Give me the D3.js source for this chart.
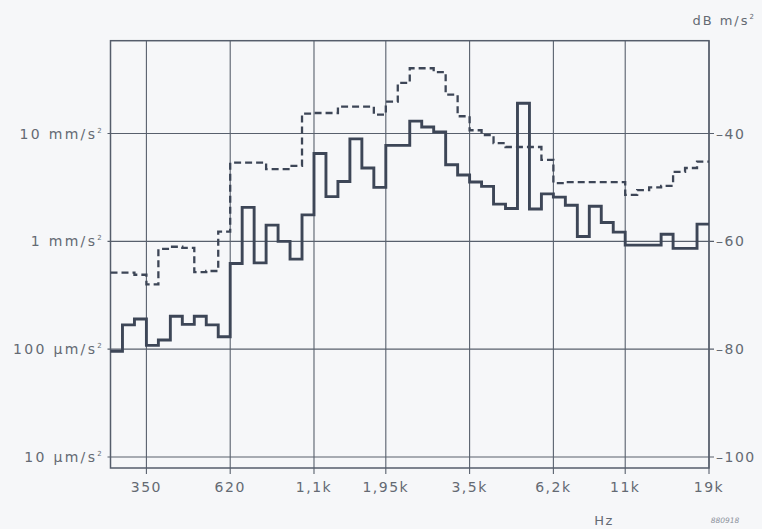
<!DOCTYPE html>
<html lang="en">
<head>
  <meta charset="UTF-8">
  <title>Spectrum</title>
  <style>
    body { margin: 0; background: #f6f7f9; }
    text { font-family: "DejaVu Sans", sans-serif; fill: #646a73; }
  </style>
</head>
<body>
  <svg width="762" height="529" id="chart"></svg>
  <script src="https://cdn.jsdelivr.net/npm/d3@7/dist/d3.min.js"></script>
  <script>
    // band levels in dB re 1 m/s^2, one value per analyser band (50 bands)
    const solidDb = [
      -80.4, -75.5, -74.4, -79.3, -78.3, -73.9, -75.4, -73.9, -75.5, -77.7,
      -64.1, -53.7, -64.0, -57.0, -60.0, -63.3, -55.1, -43.7, -51.7, -48.9,
      -41.0, -46.4, -50.0, -42.2, -42.2, -37.7, -38.8, -39.7, -45.8, -47.7,
      -49.0, -49.8, -53.1, -53.9, -34.4, -54.0, -51.2, -51.8, -53.3, -59.1,
      -53.5, -56.5, -58.3, -60.7, -60.7, -60.7, -58.7, -61.3, -61.3, -56.8
    ];
    const dashedDb = [
      -65.8, -65.8, -66.2, -68.0, -61.4, -61.0, -61.2, -65.7, -65.5, -58.2,
      -45.4, -45.4, -45.4, -46.6, -46.6, -46.0, -36.3, -36.2, -36.2, -35.0,
      -35.0, -35.0, -36.5, -34.1, -30.6, -27.9, -27.9, -28.6, -32.8, -36.8,
      -39.4, -40.3, -41.8, -42.5, -42.5, -42.5, -44.9, -49.2, -49.0, -49.0,
      -49.0, -49.0, -49.0, -51.4, -50.5, -50.0, -49.7, -47.1, -46.4, -45.2
    ];
    const freqTicks = [3, 10, 17, 23, 30, 37, 43, 50];
    const freqLabels = ['350', '620', '1,1k', '1,95k', '3,5k', '6,2k', '11k', '19k'];
    const dbTicks = [-40, -60, -80, -100];
    const accelLabels = ['10 mm/s', '1 mm/s', '100 \u00b5m/s', '10 \u00b5m/s'];

    const svg = d3.select('#chart');
    const frameL = 110.5, frameR = 709, frameT = 40.7, frameB = 468;

    const x = d3.scaleLinear().domain([0, solidDb.length]).range([frameL, frameR]);
    const y = d3.scaleLinear().domain([-100, -40]).range([457, 133.5]);

    const ink = '#3d4657';
    const grid = svg.append('g').attr('stroke', '#58606d').attr('stroke-width', 1.1);

    // vertical grid lines + small ticks below the frame
    grid.selectAll('.vg').data(freqTicks).join('line')
        .attr('x1', d => x(d)).attr('x2', d => x(d))
        .attr('y1', frameT).attr('y2', frameB + 6);
    // horizontal grid lines
    grid.selectAll('.hg').data(dbTicks).join('line')
        .attr('x1', frameL - 3).attr('x2', frameR + 5)
        .attr('y1', d => y(d)).attr('y2', d => y(d));

    // frame
    svg.append('rect')
        .attr('x', frameL).attr('y', frameT)
        .attr('width', frameR - frameL).attr('height', frameB - frameT)
        .attr('fill', 'none').attr('stroke', '#555d6b').attr('stroke-width', 1.5);

    const line = d3.line()
        .x((d, i) => x(i))
        .y(d => y(d))
        .curve(d3.curveStepAfter);
    const withEnd = arr => arr.concat([arr[arr.length - 1]]);

    svg.append('path')
        .attr('d', line(withEnd(dashedDb)))
        .attr('fill', 'none').attr('stroke', ink)
        .attr('stroke-width', 2.3).attr('stroke-dasharray', '7,4');
    svg.append('path')
        .attr('d', line(withEnd(solidDb)))
        .attr('fill', 'none').attr('stroke', ink)
        .attr('stroke-width', 2.9).attr('stroke-linejoin', 'miter');

    // x labels
    svg.selectAll('.xl').data(freqTicks).join('text')
        .attr('x', d => x(d)).attr('y', 492)
        .attr('text-anchor', 'middle').attr('font-size', 14)
        .attr('letter-spacing', 1.5)
        .text((d, i) => freqLabels[i]);

    // left labels (acceleration)
    const ll = svg.selectAll('.yl').data(dbTicks).join('text')
        .attr('x', 104).attr('y', d => y(d) + 5)
        .attr('text-anchor', 'end').attr('font-size', 14)
        .attr('letter-spacing', 2.3);
    ll.append('tspan').text((d, i) => accelLabels[i]);
    ll.append('tspan').attr('dy', -6).attr('font-size', 7).text('2');

    // right labels (dB)
    svg.selectAll('.yr').data(dbTicks).join('text')
        .attr('x', 716).attr('y', d => y(d) + 5)
        .attr('font-size', 14).attr('letter-spacing', 1.5)
        .text(d => '\u2013' + Math.abs(d));

    const unit = svg.append('text').attr('x', 756).attr('y', 25)
        .attr('text-anchor', 'end').attr('font-size', 13)
        .attr('letter-spacing', 2);
    unit.append('tspan').text('dB m/s');
    unit.append('tspan').attr('dy', -6).attr('font-size', 7).text('2');

    svg.append('text').attr('x', 604).attr('y', 525)
        .attr('text-anchor', 'middle').attr('font-size', 13)
        .attr('letter-spacing', 1.5).text('Hz');
    svg.append('text').attr('x', 725).attr('y', 523)
        .attr('text-anchor', 'middle').attr('font-size', 7.5)
        .attr('font-style', 'italic').style('fill', '#8a8f99').text('880918');
  </script>
</body>
</html>
